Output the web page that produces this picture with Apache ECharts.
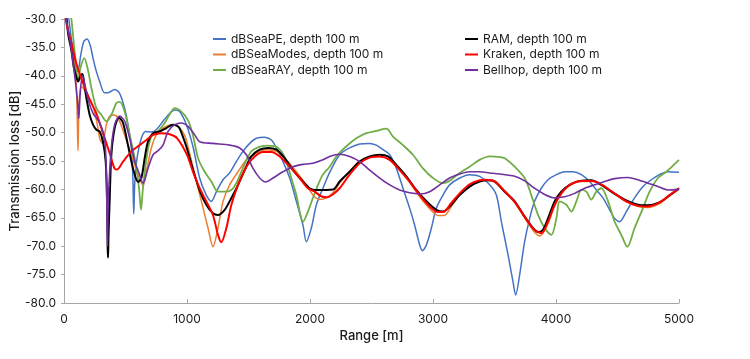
<!DOCTYPE html>
<html>
<head>
<meta charset="utf-8">
<script src="https://cdn.jsdelivr.net/npm/echarts@6/dist/echarts.min.js"></script>
<style>
html,body{margin:0;padding:0;background:#fff;}
#chart{width:750px;height:359px;}
</style>
</head>
<body>
<div id="chart"></div>
<script>
const seriesNames = ['dBSeaPE, depth 100 m','dBSeaModes, depth 100 m','dBSeaRAY, depth 100 m','RAM, depth 100 m','Kraken, depth 100 m','Bellhop, depth 100 m'];
const xTicks = [0,1000,2000,3000,4000,5000];
const yTicks = [-80,-75,-70,-65,-60,-55,-50,-45,-40,-35,-30];

const dBSeaPE = [[0,-20],[40,-30],[70,-35],[95,-38.5],[112,-39.3],[135,-36.5],[160,-34],[188,-33.5],[215,-34.8],[236,-36.9],[260,-39],[290,-41],[330,-43],[370,-42.9],[410,-42.4],[450,-43],[490,-45.5],[520,-48.6],[548,-52.7],[560,-58],[567,-64.3],[575,-59],[594,-54.5],[629,-51],[664,-49.8],[710,-49.9],[750,-49.5],[805,-48],[860,-46.6],[900,-46],[940,-46.3],[995,-48.6],[1049,-52.5],[1103,-58],[1157,-61],[1198,-62.1],[1239,-60.4],[1293,-58.3],[1347,-57.1],[1401,-55.1],[1455,-53.3],[1510,-51.9],[1564,-51],[1631,-50.8],[1686,-51.3],[1727,-52.7],[1780,-55.1],[1835,-58],[1889,-62.1],[1943,-66.3],[1970,-69.2],[2011,-66.8],[2052,-62.7],[2105,-59.8],[2160,-57],[2241,-53.9],[2322,-52.7],[2404,-52],[2485,-51.9],[2539,-52.2],[2593,-53],[2648,-53.9],[2702,-56.3],[2756,-59.8],[2810,-63.3],[2851,-66.3],[2892,-69.8],[2913,-70.8],[2946,-69.8],[2987,-66.8],[3027,-63.3],[3081,-61],[3135,-59.2],[3217,-58],[3298,-57.4],[3379,-57.7],[3461,-59.2],[3515,-61],[3556,-65.7],[3610,-71.5],[3650,-76.2],[3672,-78.6],[3704,-75.1],[3745,-69.2],[3786,-65.1],[3826,-62.1],[3881,-59.8],[3935,-58.3],[4003,-57.4],[4070,-56.9],[4138,-56.9],[4206,-57.4],[4273,-58.6],[4328,-60.1],[4382,-61.5],[4436,-63.6],[4477,-65.1],[4517,-65.7],[4572,-63.9],[4639,-61.5],[4707,-59.5],[4775,-58.3],[4842,-57.4],[4910,-56.9],[5000,-57]];

const dBSeaModes = [[0,-24],[16,-30],[60,-34.5],[90,-38],[105,-45],[114,-53.2],[122,-45],[141,-41.9],[182,-43],[236,-45.4],[270,-48.5],[290,-51],[312,-51.9],[345,-48.6],[371,-47.1],[404,-46.9],[439,-47.4],[493,-50.4],[548,-53.9],[602,-57.4],[642,-59.3],[675,-56.3],[710,-52.7],[751,-50.4],[805,-49.2],[873,-48.6],[927,-48.9],[981,-50.5],[1008,-52.5],[1063,-57.4],[1117,-62.1],[1171,-66.8],[1211,-70.1],[1252,-66.8],[1293,-62.1],[1347,-59.2],[1415,-56.9],[1483,-54.8],[1564,-53.6],[1645,-53],[1727,-53.3],[1808,-54.8],[1889,-56.9],[1970,-59.2],[2024,-61],[2078,-61.8],[2133,-61.5],[2190,-60.5],[2241,-58.9],[2322,-56.8],[2404,-55],[2485,-54.3],[2567,-54.2],[2648,-54.8],[2729,-56.6],[2810,-58.8],[2892,-61.3],[2973,-63.4],[3041,-64.6],[3090,-64.6],[3149,-63],[3217,-60.9],[3298,-59.3],[3379,-58.5],[3440,-58.4],[3501,-58.7],[3583,-60.4],[3664,-62.3],[3745,-65],[3820,-67.4],[3870,-68.2],[3935,-66],[3989,-62.9],[4043,-60.8],[4111,-59.3],[4206,-58.6],[4301,-58.6],[4382,-59.4],[4463,-60.6],[4572,-62.2],[4666,-63],[4748,-63.2],[4842,-62.5],[4923,-61.1],[5000,-60]];

const dBSeaRAY = [[0,-20],[60,-30],[90,-36.5],[114,-40.7],[135,-38.5],[165,-36.9],[195,-39],[223,-42.2],[263,-45.7],[304,-46.9],[345,-48],[385,-46.9],[426,-44.8],[453,-44.6],[493,-46.3],[534,-50.4],[575,-54.5],[610,-59.8],[626,-63.6],[642,-59.8],[675,-53.9],[710,-50.7],[764,-49.8],[818,-48.3],[873,-46.3],[900,-45.7],[954,-46.3],[1008,-47.8],[1049,-50.5],[1090,-54.5],[1144,-56.9],[1198,-58.6],[1252,-60.4],[1306,-60.4],[1361,-60.1],[1401,-58.9],[1442,-56.9],[1483,-54.8],[1523,-53.3],[1577,-52.6],[1645,-52.3],[1713,-52.4],[1767,-53.3],[1808,-55.1],[1848,-58],[1889,-61],[1922,-64.5],[1943,-65.7],[1983,-63.9],[2024,-61.5],[2065,-59.2],[2105,-57.4],[2160,-56],[2214,-54.2],[2296,-52.4],[2377,-51],[2458,-50.1],[2539,-49.7],[2621,-49.3],[2675,-50.7],[2756,-52.2],[2837,-53.9],[2918,-56.3],[3000,-58],[3081,-58.9],[3135,-58.5],[3217,-57.1],[3298,-56],[3379,-54.8],[3461,-54.2],[3542,-54.3],[3583,-54.5],[3664,-56],[3745,-58],[3799,-61],[3854,-64.5],[3908,-66.8],[3962,-68],[4003,-65.1],[4030,-62.1],[4084,-62.7],[4125,-63.9],[4166,-62.1],[4206,-60.1],[4247,-60.4],[4287,-61.8],[4328,-60.4],[4369,-59.8],[4423,-62.1],[4477,-65.7],[4531,-68],[4580,-70.1],[4639,-66.8],[4707,-63.3],[4761,-60.4],[4829,-58],[4897,-56.9],[5000,-54.8]];

const RAM = [[0,-24],[22,-30],[35,-32.8],[60,-35.5],[80,-38.5],[100,-40.2],[115,-41],[135,-40],[150,-39.7],[165,-41.5],[182,-43.9],[209,-46.9],[236,-48.6],[263,-49.5],[290,-49.8],[317,-51.6],[339,-55.1],[350,-62.1],[355,-70.4],[358,-72],[362,-68],[371,-62.1],[385,-53.9],[412,-49.2],[447,-47.4],[480,-48.3],[520,-52.2],[561,-56.3],[602,-58.7],[629,-58],[656,-54.5],[683,-51.6],[724,-50.1],[778,-49.8],[832,-49.2],[886,-48.6],[920,-48.8],[941,-49.3],[995,-52.5],[1049,-56.5],[1103,-60.2],[1157,-62.7],[1211,-64.2],[1252,-64.5],[1306,-63.6],[1361,-61.5],[1415,-59.2],[1469,-56.6],[1523,-54.2],[1591,-53],[1660,-52.7],[1727,-53],[1794,-54.5],[1862,-56.6],[1930,-58.3],[1997,-59.8],[2038,-60.1],[2187,-60],[2241,-58.6],[2322,-56.9],[2404,-55.1],[2485,-54.2],[2567,-53.9],[2634,-54.2],[2702,-55.7],[2783,-57.7],[2864,-60.1],[2946,-62.1],[3027,-63.6],[3081,-63.9],[3149,-62.7],[3217,-61],[3298,-59.5],[3379,-58.6],[3447,-58.4],[3501,-58.6],[3583,-60.4],[3664,-62.1],[3745,-64.8],[3813,-66.8],[3854,-67.5],[3894,-67.1],[3935,-65.1],[3989,-62.1],[4043,-60.4],[4111,-59.2],[4192,-58.5],[4287,-58.4],[4369,-59.2],[4450,-60.4],[4558,-61.8],[4666,-62.7],[4748,-62.8],[4829,-62.4],[4910,-61.3],[5000,-59.8]];

const Kraken = [[0,-24],[14,-30],[60,-34.2],[100,-37.8],[155,-41.3],[209,-44.2],[263,-46.6],[317,-50.1],[371,-53.6],[412,-56.4],[430,-56.5],[480,-55.1],[548,-53.3],[615,-52.2],[670,-51.3],[724,-50.4],[790,-50.1],[860,-50.3],[920,-51],[1000,-53.9],[1049,-56.9],[1103,-59.8],[1157,-62.1],[1211,-64.5],[1252,-68],[1279,-69.3],[1320,-66.8],[1361,-62.7],[1415,-59.2],[1483,-56],[1550,-54.2],[1618,-53.4],[1686,-53.4],[1754,-54.2],[1835,-56],[1916,-58],[1983,-59.8],[2038,-60.4],[2090,-61.2],[2140,-61.4],[2190,-60.8],[2241,-59.8],[2322,-57.4],[2404,-55.4],[2485,-54.4],[2567,-54.2],[2648,-54.8],[2729,-56.6],[2810,-58.6],[2892,-61],[2973,-63],[3041,-64],[3081,-64],[3149,-62.4],[3217,-60.7],[3298,-59.1],[3379,-58.4],[3433,-58.3],[3501,-58.6],[3583,-60.3],[3664,-62.2],[3745,-64.8],[3820,-67],[3881,-67.7],[3935,-65.7],[3989,-62.7],[4043,-60.7],[4111,-59.2],[4206,-58.5],[4301,-58.5],[4382,-59.3],[4463,-60.5],[4572,-62.1],[4666,-62.9],[4748,-63],[4842,-62.3],[4923,-61],[5000,-59.8]];

const Bellhop = [[0,-24],[18,-30],[50,-34],[90,-40.5],[110,-44.5],[120,-47.5],[132,-43],[150,-40],[196,-44.2],[236,-46.6],[290,-48.3],[331,-51.3],[345,-58],[353,-70],[360,-62],[385,-52.7],[412,-48.6],[453,-47.1],[493,-48],[534,-51],[575,-55.1],[615,-57.4],[642,-58.9],[683,-56.3],[724,-53.9],[764,-53.2],[805,-52.2],[846,-49.8],[900,-48.6],[954,-48.3],[1008,-48.9],[1063,-50.4],[1103,-51.6],[1211,-51.9],[1347,-52.2],[1428,-52.7],[1483,-53.9],[1537,-56.3],[1591,-58],[1640,-58.7],[1699,-58],[1780,-56.9],[1862,-56],[1943,-55.6],[2024,-55.4],[2105,-54.8],[2160,-54.2],[2241,-53.8],[2322,-54.2],[2404,-55.1],[2485,-56.6],[2567,-58],[2648,-59.2],[2729,-60.1],[2810,-60.6],[2892,-60.8],[2973,-60.4],[3054,-59.2],[3135,-58],[3217,-57.3],[3298,-56.9],[3379,-56.9],[3461,-57.1],[3542,-57.3],[3664,-57.7],[3745,-58.5],[3826,-59.8],[3908,-60.9],[3989,-61.5],[4070,-61.3],[4152,-60.7],[4233,-59.8],[4314,-59.2],[4395,-58.6],[4477,-58.1],[4585,-57.9],[4666,-58.3],[4748,-58.9],[4829,-59.5],[4910,-60.1],[5000,-60]];

const colors = ['#4472C4','#ED7D31','#70AD47','#000000','#FF0000','#7030A0'];
const widths = [1.5,1.5,1.8,2,2,1.6];
const allData = [dBSeaPE,dBSeaModes,dBSeaRAY,RAM,Kraken,Bellhop];

const font = 'Inter, "Open Sans", sans-serif';
const chart = echarts.init(document.getElementById('chart'), null, {renderer:'canvas'});
const legendBase = {
  orient:'vertical', top:32, padding:0, itemGap:1.5, itemWidth:13, itemHeight:2, icon:'rect',
  textStyle:{fontFamily:font, fontSize:12, color:'#1a1a1a', lineHeight:14}
};
chart.setOption({
  animation:false,
  backgroundColor:'#ffffff',
  grid:{left:64,right:71,top:19,bottom:56,containLabel:false,outerBoundsMode:'none'},
  legend:[
    Object.assign({}, legendBase, {left:213, data:seriesNames.slice(0,3)}),
    Object.assign({}, legendBase, {left:465, data:seriesNames.slice(3)})
  ],
  xAxis:{
    type:'value', min:xTicks[0], max:xTicks[xTicks.length-1], interval:1000,
    name:'Range [m]', nameLocation:'middle', nameGap:27,
    nameTextStyle:{fontFamily:font, fontSize:13, fontWeight:500, color:'#1a1a1a'},
    axisLine:{show:true, lineStyle:{color:'#a6a6a6', width:1}},
    axisTick:{show:true, inside:true, length:4, lineStyle:{color:'#a6a6a6'}},
    splitLine:{show:false},
    axisLabel:{fontFamily:font, fontSize:12, color:'#1a1a1a', margin:10, formatter:v=>String(v)}
  },
  yAxis:{
    type:'value', min:yTicks[0], max:yTicks[yTicks.length-1], interval:5,
    name:'Transmission loss [dB]', nameLocation:'middle', nameGap:42, nameRotate:90, nameMoveOverlap:false,
    nameTextStyle:{fontFamily:font, fontSize:13, fontWeight:500, color:'#1a1a1a'},
    axisLine:{show:true, lineStyle:{color:'#a6a6a6', width:1}},
    axisTick:{show:true, inside:false, length:3, lineStyle:{color:'#a6a6a6'}},
    splitLine:{show:false},
    axisLabel:{fontFamily:font, fontSize:12, color:'#1a1a1a', margin:8, formatter:v=>v.toFixed(1)}
  },
  series: seriesNames.map((n,i)=>({
    name:n, type:'line', data:allData[i], showSymbol:false, symbol:'none',
    smooth:0.3, clip:true, color:colors[i],
    lineStyle:{color:colors[i], width:widths[i]}
  }))
});
</script>
</body>
</html>
